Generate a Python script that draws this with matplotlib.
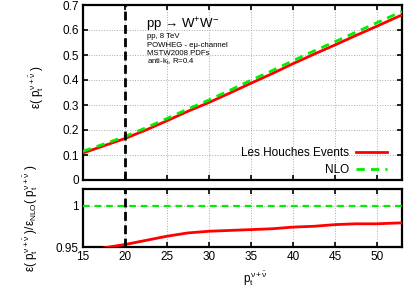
import matplotlib
matplotlib.use("Agg")
import matplotlib.pyplot as plt

plt.rcParams['font.family'] = ['Liberation Sans', 'DejaVu Sans']
plt.rcParams['mathtext.fontset'] = 'custom'
plt.rcParams['mathtext.rm'] = 'Liberation Sans'
plt.rcParams['mathtext.it'] = 'Liberation Sans'
plt.rcParams['mathtext.bf'] = 'Liberation Sans:bold'

# ---- data ----
pt = [15, 17.5, 20, 22.5, 25, 27.5, 30, 32.5, 35, 37.5, 40, 42.5, 45, 47.5, 50, 52.5, 53]
eff_lhe = [0.108, 0.137, 0.166, 0.200, 0.237, 0.275, 0.310, 0.348, 0.387, 0.425,
           0.465, 0.503, 0.540, 0.578, 0.615, 0.653, 0.660]
eff_nlo = [0.115, 0.144, 0.174, 0.209, 0.246, 0.284, 0.320, 0.359, 0.399, 0.437,
           0.477, 0.516, 0.553, 0.591, 0.629, 0.667, 0.674]
ratio_lhe = [0.940, 0.949, 0.953, 0.958, 0.963, 0.967, 0.969, 0.970, 0.971, 0.972,
             0.974, 0.975, 0.977, 0.978, 0.978, 0.979, 0.979]
ratio_nlo = [1.0] * len(pt)
cut_pt = 20
xticks = [15, 20, 25, 30, 35, 40, 45, 50]
yticks_top = [0, 0.1, 0.2, 0.3, 0.4, 0.5, 0.6, 0.7]
yticks_bot = [0.95, 1]

RED = '#ff0000'
GREEN = '#00ee00'

fig = plt.figure(figsize=(4.15, 2.91), dpi=100)
W, H = 415.0, 291.0
ax1 = fig.add_axes([83 / W, 1 - 180 / H, (402 - 83) / W, (180 - 5) / H])
ax2 = fig.add_axes([83 / W, 1 - 247 / H, (402 - 83) / W, (247 - 189) / H])

for ax in (ax1, ax2):
    ax.set_xlim(15, 53)
    ax.set_xticks(xticks)
    ax.tick_params(direction='in', top=True, right=True, length=3.5, width=1.2,
                   labelsize=8.5, pad=3)
    for s in ax.spines.values():
        s.set_linewidth(1.6)
    ax.grid(True, color='#aaaaaa', linestyle=':', linewidth=0.7)
    ax.axvline(cut_pt, color='black', linestyle=(0, (3.2, 1.6)), linewidth=2.0, zorder=4)

# top panel
ax1.plot(pt, eff_lhe, color=RED, linewidth=2.0, label='Les Houches Events', zorder=3)
ax1.plot(pt, eff_nlo, color=GREEN, linewidth=2.0, linestyle=(0, (3, 2.2)), label='NLO', zorder=3)
ax1.set_ylim(0, 0.7)
ax1.set_yticks(yticks_top)
ax1.set_yticklabels(['0', '0.1', '0.2', '0.3', '0.4', '0.5', '0.6', '0.7'])
ax1.tick_params(labelbottom=False)
ax1.set_ylabel(r'$\varepsilon(\ p_t^{\nu+\bar{\nu}}\ )$', fontsize=8.5)
ax1.yaxis.set_label_coords(-0.116, 0.53)
leg = ax1.legend(loc='lower right', frameon=False, markerfirst=False, fontsize=8.5,
                 handlelength=2.6, handletextpad=0.6, labelspacing=0.45,
                 bbox_to_anchor=(0.985, -0.04))

ax1.text(146 / W, 1 - 28.5 / H, 'pp \u2192 W$^{+}$W$^{-}$', transform=fig.transFigure,
         fontsize=9.5, va='baseline', ha='left')
small = ['pp, 8 TeV', 'POWHEG - e\u03bc-channel', 'MSTW2008 PDFs', r'anti-k$_t$, R=0.4']
for i, s in enumerate(small):
    ax1.text(147 / W, 1 - (38.5 + 8.3 * i) / H, s, transform=fig.transFigure,
             fontsize=5.6, va='baseline', ha='left')

# bottom panel
ax2.plot(pt, ratio_lhe, color=RED, linewidth=2.0, zorder=3)
ax2.plot(pt, ratio_nlo, color=GREEN, linewidth=1.6, linestyle=(0, (3, 2.2)), zorder=3)
ax2.set_ylim(0.95, 1.02)
ax2.set_yticks(yticks_bot)
ax2.set_yticklabels(['0.95', '1'])
ax2.set_ylabel(r'$\varepsilon(\ p_t^{\nu+\bar{\nu}}\ )/\varepsilon_{NLO}(\ p_t^{\nu+\bar{\nu}}\ )$',
               fontsize=8.5)
ax2.yaxis.set_label_coords(-0.135, 0.5)
fig.text(255 / W, 1 - 279 / H, r'$p_t^{\nu+\bar{\nu}}$', fontsize=8.5, ha='center', va='center')

fig.savefig('out.png', dpi=100)
